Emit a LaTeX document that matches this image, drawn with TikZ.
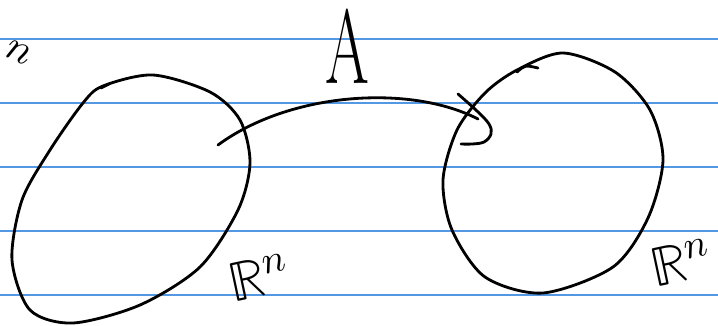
\documentclass[tikz,border=0pt]{standalone}
\usepackage{unicode-math}
\definecolor{ruleblue}{RGB}{84,152,228}

\begin{document}
\begin{tikzpicture}[
    x=0.2mm, y=-0.2mm,
    ruled/.style={draw=ruleblue, line width=1.1pt},
    ink/.style={draw=black, line width=1.6pt, line cap=round, line join=round},
    hand/.style={inner sep=0pt},
  ]
    \useasboundingbox (0,0) rectangle (718,325);
    \foreach \y in {39,103,167,231,295}
      \draw[ruled] (0,\y) -- (718,\y);

    % domain
    \draw[ink] plot[smooth cycle, tension=0.5] coordinates {
      (103,86) (153,75) (210,92) (240,120) (250,163) (238,210) (200,267)
      (140,305) (73,323) (30,310) (12,260) (22,200) (50,150) (83,103)};
    \draw[ink] (101,88) -- (109,84);

    % codomain
    \draw[ink] plot[smooth cycle, tension=0.5] coordinates {
      (517,70) (563,53) (615,72) (650,110) (663,160) (648,218) (613,267)
      (543,293) (485,277) (452,230) (443,180) (457,130) (485,93)};
    \draw[ink] (517,72) .. controls (525,65) .. (538,68);

    \coordinate (src) at (218,145);
    \coordinate (tip) at (478,119);
    \draw[ink] (src) .. controls (290,92) and (410,84) .. (tip);
    \draw[ink] plot[smooth, tension=0.6] coordinates {
      (458,94) (477,111) (489,124) (491,134) (484,142) (472,144) (461,144)};

    \node[hand, xscale=0.6, font=\fontsize{60}{60}\selectfont] (maplbl) at (347,46) {A};
    \node[hand, rotate=12, font=\fontsize{32}{32}\selectfont] (domlbl) at (259,277) {$\mathbb{R}^n$};
    \node[hand, rotate=12, font=\fontsize{32}{32}\selectfont] (codlbl) at (681,262) {$\mathbb{R}^n$};
    \node[hand, rotate=-25, font=\fontsize{24}{24}\selectfont] (cutlbl) at (19,53) {$n$};
\end{tikzpicture}
\end{document}
